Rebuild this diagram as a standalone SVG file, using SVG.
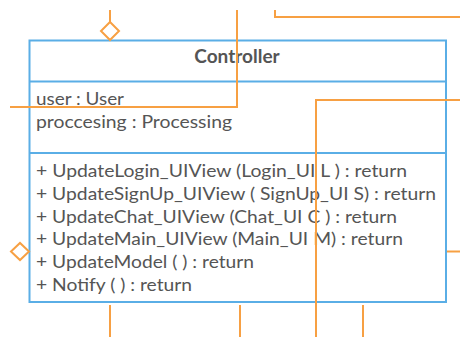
<svg xmlns="http://www.w3.org/2000/svg" width="460" height="337" viewBox="0 0 460 337">
<style>
.box{fill:#fff;stroke:#5AAEE6;stroke-width:2}
.div{stroke:#5AAEE6;stroke-width:2}
.t{font-family:Lato,"Open Sans",sans-serif;font-size:18px;fill:#555}
.h{font-family:Lato,"Open Sans",sans-serif;font-size:19px;font-weight:bold;fill:#555}
.c{fill:none;stroke:#F7A043;stroke-width:2}
.d{fill:#fff;stroke:#F7A043;stroke-width:2}
</style>
<rect width="460" height="337" fill="#fff"/>
<g id="Controller">
<rect class="box" x="29.5" y="40.5" width="416.5" height="261.5"/>
<line class="div" x1="29.5" y1="81.5" x2="446" y2="81.5"/>
<line class="div" x1="29.5" y1="153" x2="446" y2="153"/>
<text class="h" x="237" y="62.5" text-anchor="middle">Controller</text>
<text class="t" x="36" y="105" textLength="88" lengthAdjust="spacingAndGlyphs">user : User</text>
<text class="t" x="36" y="128" textLength="196" lengthAdjust="spacingAndGlyphs">proccesing : Processing</text>
<text class="t" x="36" y="177" textLength="371" lengthAdjust="spacingAndGlyphs">+ UpdateLogin_UIView (Login_UI L ) : return</text>
<text class="t" x="36" y="199.8" textLength="400" lengthAdjust="spacingAndGlyphs">+ UpdateSignUp_UIView ( SignUp_UI S) : return</text>
<text class="t" x="36" y="222.6" textLength="361" lengthAdjust="spacingAndGlyphs">+ UpdateChat_UIView (Chat_UI C ) : return</text>
<text class="t" x="36" y="245.4" textLength="367" lengthAdjust="spacingAndGlyphs">+ UpdateMain_UIView (Main_UI M) : return</text>
<text class="t" x="36" y="268.2" textLength="218" lengthAdjust="spacingAndGlyphs">+ UpdateModel ( ) : return</text>
<text class="t" x="36" y="291" textLength="156" lengthAdjust="spacingAndGlyphs">+ Notify ( ) : return</text>
</g>
<g id="connectors">
<path class="c" d="M110,10 V22"/>
<path class="d" d="M110,22 L119,31 L110,40 L101,31 Z"/>
<path class="c" d="M237,10 V107 H10"/>
<path class="c" d="M275,10 V17 H460"/>
<path class="c" d="M460,100 H316 V337"/>
<path class="d" d="M11,251.5 L20,243 L29,251.5 L20,260 Z"/>
<path class="c" d="M447,251.5 H460"/>
<path class="c" d="M110,305 V337"/>
<path class="c" d="M240,305 V337"/>
<path class="c" d="M363,305 V337"/>
</g>
</svg>
